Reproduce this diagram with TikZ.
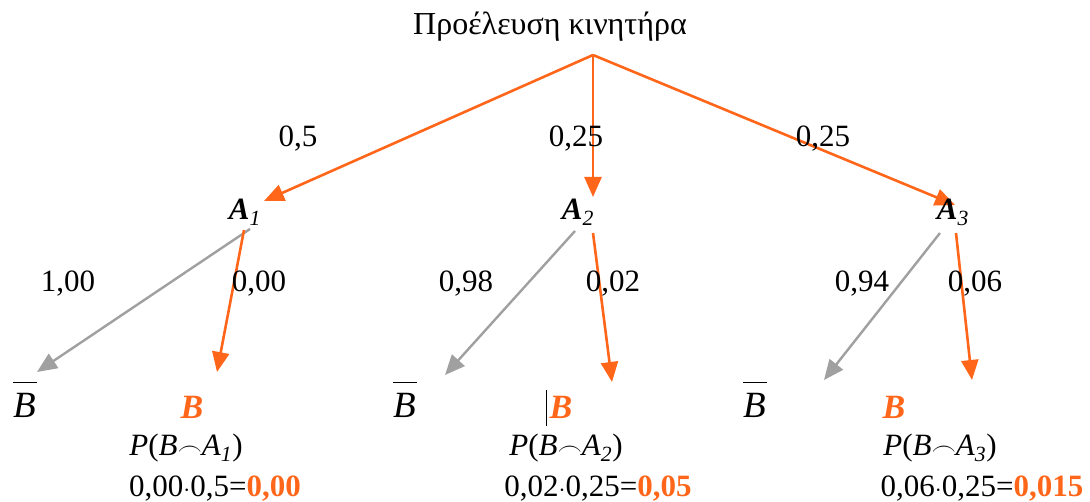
\documentclass[tikz,border=0pt]{standalone}
\usepackage{fontspec}
\setmainfont{Liberation Serif}
\usetikzlibrary{arrows.meta}
\definecolor{org}{RGB}{255,102,26}
\definecolor{gry}{RGB}{160,160,160}
\tikzset{
  ob/.style={draw=org,line width=2.6pt,-{Triangle[length=20pt,width=17pt]}},
  gb/.style={draw=gry,line width=2.4pt,-{Triangle[length=20pt,width=17pt]}},
  lbl/.style={inner sep=0pt,font=\fontsize{31}{36}\selectfont},
  ttl/.style={inner sep=0pt,font=\fontsize{32}{36}\selectfont},
  bb/.style={inner sep=0pt,font=\fontsize{34}{38}\selectfont},
  nbb/.style={inner sep=0pt,font=\fontsize{37}{40}\selectfont},
}
\newcommand{\barB}{$\overline{\hbox{\rule{0pt}{0.92em}\textit{B}\kern1pt}}$}
\begin{document}
\begin{tikzpicture}[x=1pt,y=-1pt]
\useasboundingbox (0,0) rectangle (1090,502);
\node[ttl] (title) at (550,27) {Προέλευση κινητήρα};
\coordinate (root) at (593,55);
\coordinate (e1) at (264,201);
\coordinate (e2) at (593,197);
\coordinate (e3) at (955,205);
\draw[ob] (root) -- (e1);
\draw[ob] (root) -- (e2);
\draw[ob] (root) -- (e3);
\node[lbl] (p1) at (298,139) {0,5};
\node[lbl] (p2) at (576,139) {0,25};
\node[lbl] (p3) at (823,139) {0,25};
\node[lbl] (A1) at (245,212) {\textbf{\textit{A}}\textsubscript{\textit{1}}};
\node[lbl] (A2) at (578,212) {\textbf{\textit{A}}\textsubscript{\textit{2}}};
\node[lbl] (A3) at (953,212) {\textbf{\textit{A}}\textsubscript{\textit{3}}};
% second level
\coordinate (g1s) at (250,229); \coordinate (g1e) at (37,372);
\coordinate (o1s) at (244,230); \coordinate (o1e) at (217,372);
\coordinate (g2s) at (575,231); \coordinate (g2e) at (445,375);
\coordinate (o2s) at (593,233); \coordinate (o2e) at (612,382);
\coordinate (g3s) at (940,233); \coordinate (g3e) at (824,380);
\coordinate (o3s) at (956,233); \coordinate (o3e) at (972,380);
\draw[gb] (g1s) -- (g1e);
\draw[ob] (o1s) -- (o1e);
\draw[gb] (g2s) -- (g2e);
\draw[ob] (o2s) -- (o2e);
\draw[gb] (g3s) -- (g3e);
\draw[ob] (o3s) -- (o3e);
\node[lbl] (q1) at (68,284) {1,00};
\node[lbl] (q2) at (259,284) {0,00};
\node[lbl] (q3) at (466,284) {0,98};
\node[lbl] (q4) at (613,284) {0,02};
\node[lbl] (q5) at (862,284) {0,94};
\node[lbl] (q6) at (975,284) {0,06};
% leaves
\node[nbb] (nb1) at (25,400) {\barB};
\node[nbb] (nb2) at (405,400) {\barB};
\node[nbb] (nb3) at (755,400) {\barB};
\node[bb,text=org] (b1) at (192,407) {\textbf{\textit{B}}};
\node[bb,text=org] (b2) at (561,407) {\textbf{\textit{B}}};
\node[bb,text=org] (b3) at (894,407) {\textbf{\textit{B}}};
\draw[line width=1pt] ([xshift=-3pt,yshift=6pt]b2.north west) -- ([xshift=-3pt,yshift=-8pt]b2.south west);
\node[lbl] (pr1) at (186,448) {\textit{P}(\textit{B}$\frown$\textit{A}\textsubscript{\textit{1}})};
\node[lbl] (pr2) at (566,448) {\textit{P}(\textit{B}$\frown$\textit{A}\textsubscript{\textit{2}})};
\node[lbl] (pr3) at (940,448) {\textit{P}(\textit{B}$\frown$\textit{A}\textsubscript{\textit{3}})};
\node[lbl] (r1) at (215,489) {0,00$\cdot$0,5=\textcolor{org}{\textbf{0,00}}};
\node[lbl] (r2) at (598,489) {0,02$\cdot$0,25=\textcolor{org}{\textbf{0,05}}};
\node[lbl] (r3) at (982,489) {0,06$\cdot$0,25=\textcolor{org}{\textbf{0,015}}};
\end{tikzpicture}
\end{document}
